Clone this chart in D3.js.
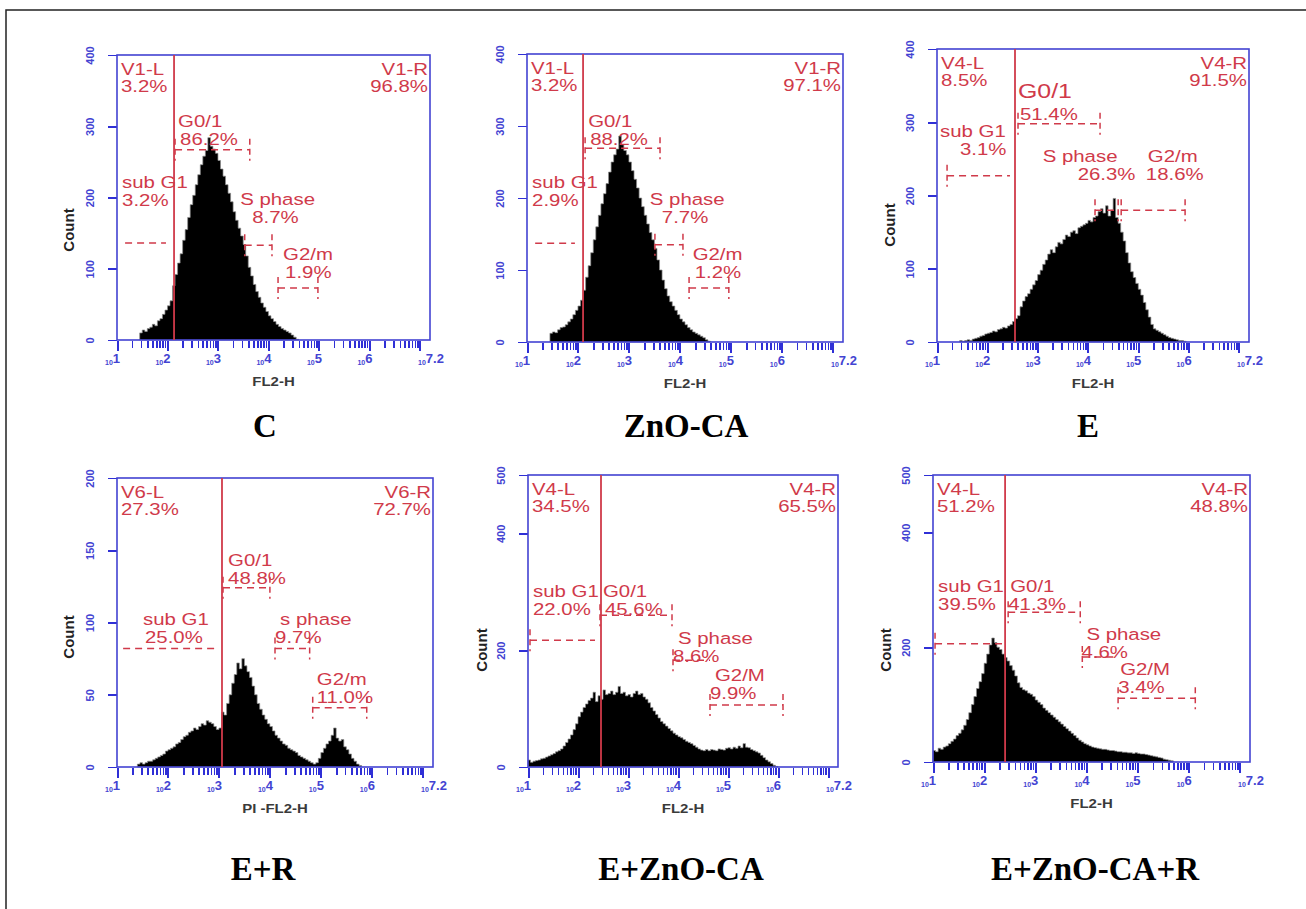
<!DOCTYPE html>
<html>
<head>
<meta charset="utf-8">
<script src="https://cdn.jsdelivr.net/npm/d3@7"></script>
<style>
  body { margin: 0; background: #fff; }
  svg { display: block; }
</style>
</head>
<body>
<svg id="fig" width="1306" height="909"></svg>
<script>
// ---- DNA content histograms (FL2-H, log scale), six treatments ----
const titles = ["C", "ZnO-CA", "E", "E+R", "E+ZnO-CA", "E+ZnO-CA+R"];
const xLabels = ["FL2-H", "FL2-H", "FL2-H", "PI -FL2-H", "FL2-H", "FL2-H"];
const yMaxes = [400, 400, 400, 200, 500, 500];
const yTickSets = [
  [0, 100, 200, 300, 400],
  [0, 100, 200, 300, 400],
  [0, 100, 200, 300, 400],
  [0, 50, 100, 150, 200],
  [0, 200, 400, 500],
  [0, 200, 400, 500]
];
const xMajorExp = [1, 2, 3, 4, 5, 6];
const xMaxExp = 7.2;

// histogram bins are 0.05 decade wide; first bin start in log10 units
const binWidth = 0.05;
const histStart = [1.45, 1.45, 1.45, 1.40, 1.00, 1.00];
const countsC = [10,14,12,16,18,22,20,27,30,36,42,48,55,76,92,108,121,140,155,172,190,203,218,232,246,258,266,284,272,268,262,252,240,230,218,206,194,180,168,157,146,134,118,102,90,78,68,60,52,46,40,34,30,26,22,19,16,14,12,10,7,4,1];
const countsZnO = [12,14,13,17,20,21,24,28,32,38,44,50,58,72,90,106,124,142,160,176,192,206,220,236,250,260,268,286,274,266,260,250,238,226,214,200,188,176,164,152,142,130,114,100,86,74,64,56,50,44,38,32,28,24,20,17,14,12,10,8,6,3,1];
const countsE = [2,1,2,3,2,4,5,6,8,9,11,12,13,15,14,17,18,20,19,22,24,28,32,36,48,56,62,66,72,78,84,92,98,106,112,120,126,122,130,136,134,140,146,144,150,152,148,156,158,160,162,166,164,170,172,178,182,176,186,172,180,196,170,162,150,138,122,108,96,88,80,72,64,54,44,34,24,18,16,14,12,10,8,6,5,4,3,2,2,1];
const countsER = [2,3,2,3,4,4,5,6,7,8,9,11,12,13,14,16,17,19,21,22,24,25,27,26,28,30,29,32,31,30,28,26,27,38,36,44,50,58,64,72,68,75,70,66,62,56,50,44,40,36,33,30,28,25,22,20,18,16,15,13,12,11,10,8,7,6,5,4,3,2,3,6,10,13,16,18,22,27,20,18,19,14,12,9,6,4,2,1];
const countsEZnO = [12,8,10,11,12,14,15,17,19,21,23,26,28,31,36,42,48,55,64,74,86,94,102,108,114,118,128,112,122,116,132,124,126,130,124,128,138,126,128,122,124,120,126,130,124,126,120,116,110,102,96,90,84,78,74,70,66,62,58,55,52,50,47,44,42,40,37,34,31,29,28,30,28,30,29,28,31,30,29,32,33,31,34,32,36,33,40,34,33,30,28,26,24,20,16,12,9,6,3,1];
const countsEZnOR = [20,18,24,22,26,28,32,36,40,46,50,56,64,74,86,100,114,128,140,154,172,188,204,216,208,200,196,188,182,176,168,160,150,138,130,126,124,120,118,114,108,104,100,94,90,86,82,78,74,70,66,62,58,54,50,46,42,38,35,32,30,28,26,25,24,23,22,22,21,20,20,19,18,18,17,17,16,16,15,16,15,14,14,13,12,11,10,9,8,7,5,4,3,2];
const histCounts = [countsC, countsZnO, countsE, countsER, countsEZnO, countsEZnOR];

// gate dividing left / right populations (log10 FL2-H)
const gateLog = [2.13, 2.10, 2.55, 3.06, 2.46, 2.41];
const gateLeftName = ["V1-L", "V1-L", "V4-L", "V6-L", "V4-L", "V4-L"];
const gateLeftPct = ["3.2%", "3.2%", "8.5%", "27.3%", "34.5%", "51.2%"];
const gateRightName = ["V1-R", "V1-R", "V4-R", "V6-R", "V4-R", "V4-R"];
const gateRightPct = ["96.8%", "97.1%", "91.5%", "72.7%", "65.5%", "48.8%"];

// cell-cycle phase markers: name, percentage, range (log10) and marker level (count)
const phaseNames = [
  ["sub G1", "G0/1", "S phase", "G2/m"],
  ["sub G1", "G0/1", "S phase", "G2/m"],
  ["sub G1", "G0/1", "S phase", "G2/m"],
  ["sub G1", "G0/1", "s phase", "G2/m"],
  ["sub G1", "G0/1", "S phase", "G2/M"],
  ["sub G1", "G0/1", "S phase", "G2/M"]
];
const phasePct = [
  ["3.2%", "86.2%", "8.7%", "1.9%"],
  ["2.9%", "88.2%", "7.7%", "1.2%"],
  ["3.1%", "51.4%", "26.3%", "18.6%"],
  ["25.0%", "48.8%", "9.7%", "11.0%"],
  ["22.0%", "45.6%", "8.6%", "9.9%"],
  ["39.5%", "41.3%", "4.6%", "3.4%"]
];
const phaseLo = [
  [1.16, 2.15, 3.53, 4.19],
  [1.16, 2.14, 3.51, 4.18],
  [1.20, 2.61, 4.14, 4.66],
  [1.12, 3.08, 4.10, 4.84],
  [1.04, 2.44, 3.90, 4.64],
  [1.04, 2.47, 3.92, 4.62]
];
const phaseHi = [
  [1.97, 3.63, 4.07, 4.98],
  [1.94, 3.61, 4.06, 4.96],
  [2.45, 4.24, 4.60, 5.93],
  [3.00, 4.00, 4.78, 5.90],
  [2.34, 3.88, 4.64, 6.10],
  [2.35, 3.88, 4.57, 6.13]
];
const phaseLevel = [
  [136, 267, 133, 73],
  [137, 269, 135, 75],
  [227, 298, 180, 180],
  [82, 124, 82, 41],
  [217, 260, 183, 106],
  [206, 261, 183, 111]
];

// ---- layout ----
const frames = [
  [117, 55, 430, 340], [527, 54, 843, 342], [937, 49, 1249, 342],
  [117, 478, 433, 767], [528, 475, 838, 767], [933, 475, 1250, 762]
];
const titlePos = [[265, 437], [686, 437], [1088, 437], [263, 880], [681, 880], [1095, 880]];
const countPos = [[74, 230], null, [895, 225], [74, 637], [487, 650], [891, 650]];
// label anchor per marker: [log x, count y, dx of percentage line, font factor]
const labelAt = [
  [[1.10, 213, 0, 1], [2.21, 299, 2, 1], [3.44, 189, 12, 1], [4.29, 112, 2, 1]],
  [[1.10, 214, 0, 1], [2.20, 299, 2, 1], [3.41, 190, 12, 1], [4.25, 114, 2, 1]],
  [[1.06, 280, 20, 1], [2.61, 333, 2, 1.22], [3.10, 246, 35, 1], [5.19, 246, -2, 1]],
  [[1.51, 98, 2, 1], [3.18, 139, 0, 1], [4.20, 98, -5, 1], [4.92, 57, 0, 1]],
  [[1.10, 291, 0, 1], [2.50, 291, 2, 1], [4.00, 210, -5, 1], [4.74, 147, -5, 1]],
  [[1.10, 296, 0, 1], [2.51, 296, -2, 1], [4.00, 212, -5, 1], [4.66, 152, -2, 1]]
];
// dashed end caps on each marker: [left, right]
const markerCaps = [
  [[false, false], [true, true], [true, true], [true, true]],
  [[false, false], [true, true], [true, true], [true, true]],
  [[true, false], [true, true], [true, true], [true, true]],
  [[false, false], [true, true], [true, true], [true, true]],
  [[true, false], [true, true], [true, false], [true, true]],
  [[true, false], [true, true], [true, false], [true, true]]
];

const BLUE = "#4343d2";
const TICK_BLUE = "#2f2fd6";
const RED = "#d03a4a";
const SANS = "'Liberation Sans', Arial, sans-serif";
const SERIF = "'Liberation Serif', 'Times New Roman', serif";
const STRETCH = 1.2;
const LABEL_SIZE = 17;

const svg = d3.select("#fig");

// page border
svg.append("path")
  .attr("d", "M6,909 L6,10 L1306,10")
  .attr("fill", "none").attr("stroke", "#222").attr("stroke-width", 1.5);

function redText(g, x, y, str, anchor, size) {
  g.append("text")
    .attr("transform", `translate(${x},${y}) scale(${STRETCH},1)`)
    .attr("text-anchor", anchor || "start")
    .attr("font-family", SANS)
    .attr("font-size", size || LABEL_SIZE)
    .attr("fill", RED)
    .text(str);
}

function styleTicks(a, width) {
  a.select(".domain").remove();
  a.selectAll(".tick line")
    .style("stroke", TICK_BLUE)
    .style("stroke-width", width)
    .style("shape-rendering", "crispEdges");
}

titles.forEach((title, i) => {
  const [L, T, R, B] = frames[i];
  const x = d3.scaleLinear().domain([1, xMaxExp]).range([L, R]);
  const y = d3.scaleLinear().domain([0, yMaxes[i]]).range([B, T]);
  const g = svg.append("g");

  // histogram as stepped area
  const counts = histCounts[i];
  const pts = counts.map((c, k) => ({ lx: histStart[i] + k * binWidth, c }));
  pts.push({ lx: histStart[i] + counts.length * binWidth, c: 0 });
  const area = d3.area()
    .x(d => x(d.lx)).y0(y(0)).y1(d => y(d.c))
    .curve(d3.curveStepAfter);
  g.append("path").attr("d", area(pts))
    .attr("fill", "#000").attr("stroke", "#8c8c8c").attr("stroke-width", 0.7);

  // x axis: decade and minor log ticks
  const minor = [];
  for (let d = 1; d <= 6; d++) for (let k = 2; k <= 9; k++) minor.push(d + Math.log10(k));
  g.append("g").attr("transform", `translate(0,${B + 1})`)
    .call(d3.axisBottom(x).tickValues(minor).tickSize(7).tickFormat(""))
    .call(a => styleTicks(a, 1.6));
  g.append("g").attr("transform", `translate(0,${B + 1})`)
    .call(d3.axisBottom(x).tickValues(xMajorExp.concat([7])).tickSize(10).tickFormat(""))
    .call(a => styleTicks(a, 2));
  xMajorExp.concat([xMaxExp]).forEach(e => {
    const t = g.append("text")
      .attr("x", x(e) - 12).attr("y", B + 25)
      .attr("font-family", SANS).attr("fill", BLUE).attr("font-weight", "bold");
    t.append("tspan").attr("font-size", 7).text("10");
    t.append("tspan").attr("font-size", 13).attr("dy", -2).text(String(e));
  });

  // y axis with rotated labels
  g.append("g").attr("transform", `translate(${L},0)`)
    .call(d3.axisLeft(y).tickValues(yTickSets[i]).tickSize(9).tickFormat(d3.format("d")))
    .call(a => styleTicks(a, 1.8))
    .call(a => a.selectAll("text")
      .attr("transform", "rotate(-90)")
      .attr("x", 0).attr("y", -23).attr("dy", 0)
      .attr("text-anchor", "middle")
      .attr("fill", BLUE).attr("font-size", 11).attr("font-weight", "bold")
      .attr("font-family", SANS));

  // plot frame
  g.append("rect").attr("x", L).attr("y", T).attr("width", R - L).attr("height", B - T)
    .attr("fill", "none").attr("stroke", BLUE).attr("stroke-width", 1.6);

  // axis titles
  g.append("text")
    .attr("transform", `translate(${(L + R) / 2},${B + 46}) scale(1.15,1)`)
    .attr("text-anchor", "middle").attr("font-family", SANS)
    .attr("font-size", 13).attr("font-weight", "bold").attr("fill", "#3a3a3a")
    .text(xLabels[i]);
  if (countPos[i]) {
    g.append("text")
      .attr("transform", `translate(${countPos[i][0]},${countPos[i][1]}) rotate(-90)`)
      .attr("text-anchor", "middle").attr("font-family", SANS)
      .attr("font-size", 15).attr("font-weight", "bold").attr("fill", "#222")
      .text("Count");
  }

  // gate line and its population labels
  g.append("line")
    .attr("x1", x(gateLog[i])).attr("x2", x(gateLog[i]))
    .attr("y1", y(0)).attr("y2", T)
    .attr("stroke", RED).attr("stroke-width", 1.8);
  redText(g, L + 4, T + 20, gateLeftName[i]);
  redText(g, L + 4, T + 37, gateLeftPct[i]);
  redText(g, R - 2, T + 20, gateRightName[i], "end");
  redText(g, R - 2, T + 37, gateRightPct[i], "end");

  // phase markers
  phaseNames[i].forEach((name, j) => {
    const yy = y(phaseLevel[i][j]);
    const x0 = x(phaseLo[i][j]), x1 = x(phaseHi[i][j]);
    const dash = { stroke: RED, "stroke-width": 1.5, "stroke-dasharray": "7,5", fill: "none" };
    const hl = g.append("line").attr("x1", x0).attr("x2", x1).attr("y1", yy).attr("y2", yy);
    Object.entries(dash).forEach(([k, v]) => hl.attr(k, v));
    const [capL, capR] = markerCaps[i][j];
    [[capL, x0], [capR, x1]].forEach(([on, xc]) => {
      if (!on) return;
      const vl = g.append("line").attr("x1", xc).attr("x2", xc).attr("y1", yy - 11).attr("y2", yy + 11);
      Object.entries(dash).forEach(([k, v]) => vl.attr(k, v));
      vl.attr("stroke-dasharray", "6,4");
    });
    const [lx, ly, pdx, fs] = labelAt[i][j];
    const size = LABEL_SIZE * fs;
    redText(g, x(lx), y(ly), name, "start", size);
    redText(g, x(lx) + pdx, y(ly) + size + 1, phasePct[i][j], "start", LABEL_SIZE);
  });

  // panel title
  svg.append("text")
    .attr("x", titlePos[i][0]).attr("y", titlePos[i][1])
    .attr("text-anchor", "middle").attr("font-family", SERIF)
    .attr("font-weight", "bold").attr("font-size", 33).attr("fill", "#000")
    .text(title);
});
</script>
</body>
</html>
